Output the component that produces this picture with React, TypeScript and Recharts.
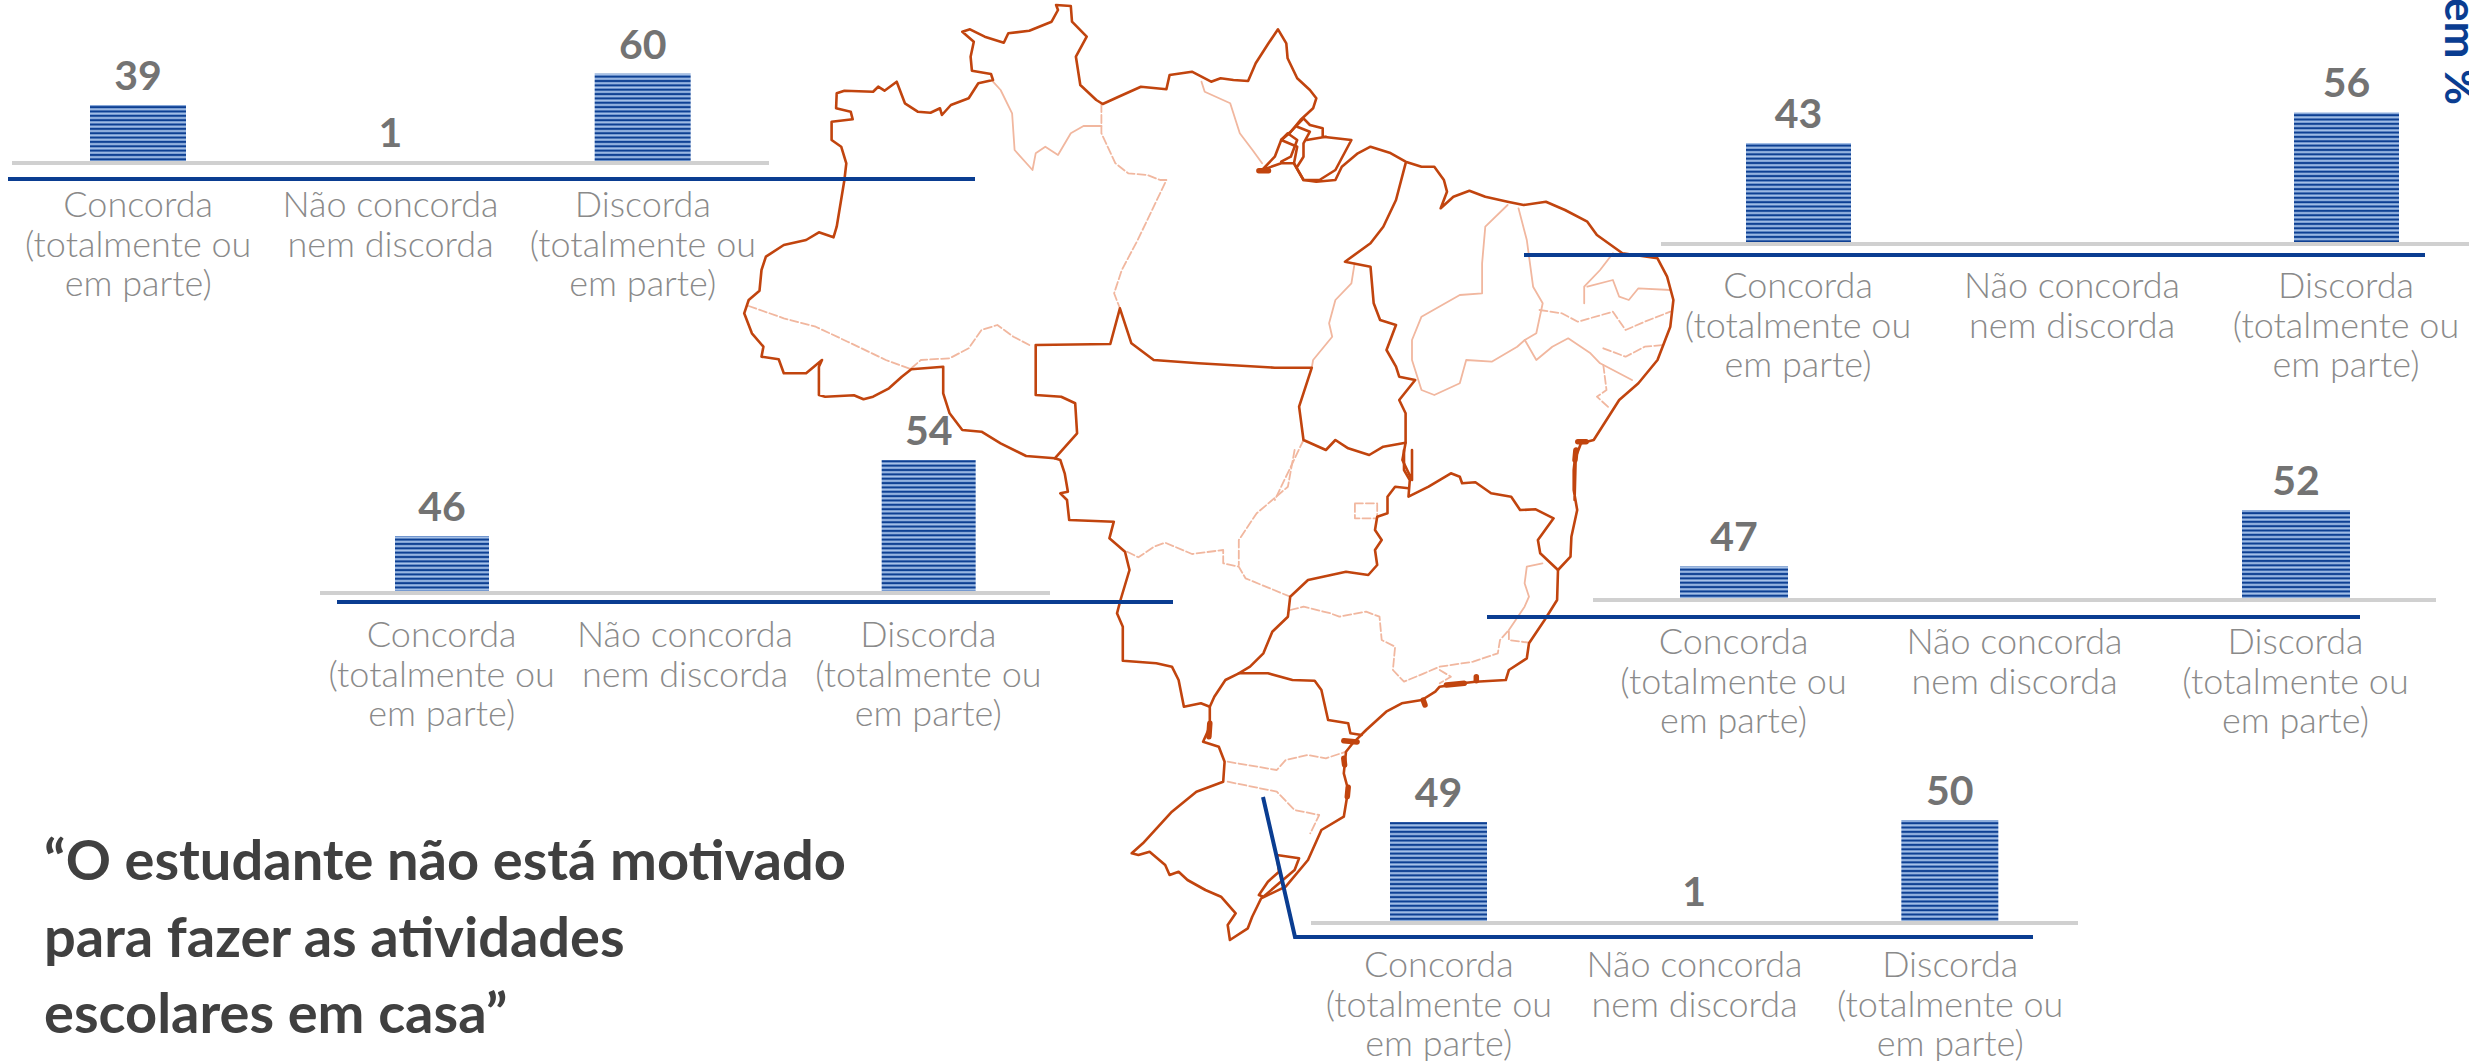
import React from 'react';
import { BarChart, Bar, XAxis, YAxis, LabelList } from 'recharts';

const WIDTH = 2469;
const HEIGHT = 1061;

const categories = ['Concorda', 'Não concorda', 'Discorda'];
const tickLines: Record<string, string[]> = {
  Concorda: ['Concorda', '(totalmente ou', 'em parte)'],
  'Não concorda': ['Não concorda', 'nem discorda'],
  Discorda: ['Discorda', '(totalmente ou', 'em parte)'],
};

const norteValues = [39, 1, 60];
const nordesteValues = [43, null, 56];
const centroOesteValues = [46, null, 54];
const sudesteValues = [47, null, 52];
const sulValues = [49, 1, 50];

const titleLines = ['“O estudante não está motivado', 'para fazer as atividades', 'escolares em casa”'];

const BLUE = '#0a3d91';
const GRAY_LINE = '#d0d0d0';
const MAP_DARK = '#c1440e';
const MAP_LIGHT = '#f1b79f';

// Map outline, traced by eye off two crops of the reference. It is backdrop, not data.
type Pt = number[];
const north = (pts: Pt[]) => pts.map(([x, y]) => `${(720 + x / 1.568).toFixed(1)},${(y / 3).toFixed(1)}`).join(' ');
const south = (pts: Pt[]) => pts.map(([x, y]) => `${(1000 + x / 2.24).toFixed(1)},${(450 + y / 3).toFixed(1)}`).join(' ');

const outline = [
  north([[350,1100],[300,1108],[285,1130],[265,1165],[240,1190],[225,1198],[210,1186],[165,1190],[155,1185],[155,1100],[160,1080],[135,1120],[100,1120],[92,1078],[65,1070],[68,1040],[50,1000],[38,940],[45,900],[62,872],[65,810],[72,770],[100,735],[135,720],[155,697],[178,712],[183,680],[195,540],[198,490],[190,440],[175,420],[175,365],[208,358],[205,335],[182,325],[183,280],[195,272],[240,275],[248,260],[258,272],[277,245],[290,310],[310,335],[330,338],[345,325],[348,345],[362,315],[390,295],[405,250],[428,240],[425,222],[395,212],[393,170],[398,125],[380,95],[392,88],[415,110],[445,128],[452,100],[485,92],[520,65],[530,30],[527,15],[550,18],[552,65],[575,110],[558,170],[565,255],[590,300],[600,312],[625,290],[660,260],[700,268],[705,225],[740,215],[770,245],[785,235],[805,240],[828,243],[840,190],[860,130],[875,88],[888,130],[890,175],[905,235],[925,270],[935,295],[930,325],[910,360],[895,395],[880,420],[870,470],[850,510],[880,490],[900,490],[915,540],[935,545],[965,540],[975,500],[1000,460],[1020,440],[1050,458],[1075,485],[1100,500],[1120,500],[1135,540],[1140,575],[1130,625],[1150,590],[1175,572],[1200,590],[1235,605],[1260,615],[1295,605],[1325,630],[1360,665],[1375,705],[1415,760],[1470,775],[1485,830],[1495,900],[1490,980],[1470,1080],[1440,1150],[1410,1200],[1370,1320],[1350,1330],[1340,1380],[1340,1500]]),
  south([[1290,0],[1285,60],[1285,120],[1293,180],[1280,260],[1278,320],[1250,360],[1248,450],[1220,510],[1185,580],[1180,625],[1140,660],[1133,690],[1065,695],[1035,700],[985,710],[975,725],[945,750],[900,760],[865,785],[820,840],[790,880],[775,905],[770,970],[780,1020],[770,1100],[720,1140],[690,1230],[640,1310],[585,1345],[565,1400],[555,1435],[515,1470],[510,1425],[528,1390],[495,1340],[460,1320],[420,1290],[400,1265],[380,1275],[370,1245],[335,1205],[310,1215],[295,1210],[320,1180],[385,1085],[440,1025],[500,995],[503,935],[490,890],[455,875],[470,830],[470,770],[450,760],[412,770],[400,690],[385,650],[350,640],[275,632],[275,530],[262,490],[270,450],[290,360],[280,305],[245,265],[255,215],[155,210],[150,150],[135,130],[152,125],[145,70],[135,30]]),
  north([[525,1375],[480,1368],[440,1330],[410,1295],[380,1290],[360,1240],[350,1180],[350,1100]]),
].join(' ');

const darkLines = [
  north([[525,1375],[560,1300],[557,1210],[535,1190],[495,1185],[495,1035],[612,1032],[627,925],[645,1030],[680,1080],[750,1090],[870,1103],[928,1103],[908,1220],[915,1320],[950,1350],[965,1320],[985,1345],[1018,1365],[1040,1340],[1075,1328]]),
  north([[1075,490],[1060,600],[1040,680],[1020,730],[980,785],[1020,800],[1025,910],[1035,960],[1060,975],[1045,1050],[1060,1100],[1065,1130],[1090,1140],[1065,1200],[1075,1240],[1075,1328],[1070,1380],[1085,1440],[1085,1350]]),
  north([[895,395],[915,355],[925,375],[945,385],[945,410],[990,420],[965,510],[940,540],[915,540],[900,490],[905,440],[880,420],[895,395]]),
  north([[880,420],[890,400],[905,420],[895,470],[880,485]]),
  north([[905,380],[925,395],[915,430],[915,470],[905,500]]),
  north([[920,420],[950,410]]),
  south([[905,0],[905,60],[918,90],[915,140],[960,110],[1010,70],[1030,80],[1035,100],[1065,97],[1100,130],[1145,140],[1165,180],[1200,178],[1240,205],[1205,270],[1210,310],[1250,360]]),
  south([[915,115],[885,110],[868,140],[868,190],[845,200],[840,240],[855,270],[840,300],[845,345],[825,375],[775,365],[690,390],[650,440],[645,500],[610,545],[590,610],[560,650],[535,670],[600,670],[655,690],[705,692],[720,720],[735,810],[780,820],[785,850],[810,855]]),
  south([[535,670],[505,690],[480,740],[470,770]]),
  south([[620,1215],[670,1225],[660,1260],[590,1340],[580,1335],[600,1295],[625,1265],[620,1215]]),
];

const blobLines = [
  north([[845,512],[860,512]]),
  north([[1345,1325],[1358,1325]]),
  south([[470,820],[468,860]]),
  south([[770,872],[800,876]]),
  south([[770,925],[772,945]]),
  south([[780,1012],[778,1040]]),
  south([[948,750],[952,765]]),
  south([[1000,705],[1040,700]]),
  south([[1067,680],[1067,692]]),
  south([[1290,0],[1288,30]]),
];

const paleLines = [
  north([[428,245],[440,270],[458,340],[462,450],[490,510],[495,460],[510,440],[530,465],[550,400],[570,378],[598,378]]),
  north([[755,245],[760,275],[800,310],[815,400],[835,450],[850,490]]),
  north([[1235,615],[1200,680],[1195,790],[1195,880],[1160,885],[1100,950],[1085,1020],[1085,1080],[1100,1170],[1120,1185],[1160,1150],[1170,1080],[1210,1085],[1250,1040],[1262,1020]]),
  north([[1252,625],[1265,720],[1275,860],[1290,910],[1280,1000],[1262,1020],[1280,1080],[1305,1040],[1330,1015],[1365,1060],[1380,1090],[1430,1140]]),
  north([[1400,760],[1380,810],[1355,860],[1355,910]]),
  north([[1360,860],[1400,840],[1410,890],[1425,900],[1440,865],[1490,870]]),
  north([[995,790],[990,850],[965,900],[955,970],[960,1010],[930,1080],[928,1103]]),
  south([[1215,340],[1180,350],[1175,400],[1185,440],[1175,470],[1140,540]]),
];

const dashedLines = [
  north([[598,312],[598,400],[620,490],[640,520],[670,525],[690,540],[700,540],[680,620],[655,720],[630,810],[618,880],[627,925]]),
  north([[45,918],[100,955],[150,980],[200,1025],[260,1080],[300,1108]]),
  north([[300,1105],[315,1080],[360,1075],[390,1045],[410,990],[435,975],[460,1010],[485,1035]]),
  north([[915,1320],[895,1400],[870,1500]]),
  north([[1285,930],[1320,940],[1345,965],[1400,935],[1420,990],[1450,965],[1490,935]]),
  north([[1385,1045],[1420,1070],[1450,1040],[1480,1035]]),
  north([[1385,1095],[1390,1170],[1375,1190],[1395,1225]]),
  south([[285,305],[310,322],[345,290],[370,278],[430,312],[500,300],[500,340],[535,350],[550,385],[650,440]]),
  south([[660,0],[645,110],[575,190],[535,270],[535,345]]),
  south([[795,160],[845,160],[845,205],[795,205],[795,160]]),
  south([[650,480],[680,470],[740,490],[760,500],[820,485],[850,500],[855,570],[885,590],[880,660],[905,695],[950,670],[985,650],[1060,635],[1115,610],[1120,570],[1140,540],[1140,570],[1185,578]]),
  south([[985,660],[1010,680],[985,700]]),
  south([[510,935],[620,960],[640,930],[690,915],[730,925],[775,905]]),
  south([[510,995],[620,1025],[660,1080],[715,1095],[695,1150]]),
];

function RegionTick({ x, y, payload }: any) {
  const lines = tickLines[payload.value] || [];
  return (
    <text x={x} y={y + 46} textAnchor="middle" fontFamily="Lato" fontWeight={300} fontSize={36} fill="#8a8a8a">
      {lines.map((line, i) => (
        <tspan key={line} x={x} dy={i === 0 ? 0 : 39.5}>{line}</tspan>
      ))}
    </text>
  );
}

function RegionChart({ id, values, left, right, base, plotHeight, domain, barSize }: {
  id: string; values: (number | null)[]; left: number; right: number; base: number;
  plotHeight: number; domain: number[]; barSize: number;
}) {
  const data = categories.map((name, i) => ({ name, value: values[i] }));
  const axisHeight = 150;
  return (
    <div style={{ position: 'absolute', left, top: base - plotHeight }}>
      <BarChart
        width={right - left}
        height={plotHeight + axisHeight}
        data={data}
        margin={{ top: 0, right: 0, bottom: 0, left: 0 }}
        barCategoryGap={0}
      >
        <defs>
          <pattern id={id} patternUnits="userSpaceOnUse" width={8} height={4.35}>
            <rect width={8} height={4.35} fill="#a9c3e8" />
            <rect y={0.4} width={8} height={0.5} fill="#4f7cc0" />
            <rect y={0.9} width={8} height={1.7} fill={BLUE} />
            <rect y={2.6} width={8} height={0.5} fill="#4f7cc0" />
          </pattern>
        </defs>
        <YAxis hide domain={domain} />
        <Bar dataKey="value" fill={`url(#${id})`} barSize={barSize} isAnimationActive={false}>
          <LabelList
            dataKey="value"
            position="top"
            offset={15}
            fontFamily="Lato"
            fontWeight={700}
            fontSize={41}
            fill="#737373"
          />
        </Bar>
        <XAxis
          dataKey="name"
          height={axisHeight}
          interval={0}
          axisLine={{ stroke: GRAY_LINE, strokeWidth: 4 }}
          tickLine={false}
          tick={<RegionTick />}
        />
      </BarChart>
    </div>
  );
}

export default function App() {
  return (
    <div style={{ position: 'absolute', left: 0, top: 0, width: WIDTH, height: HEIGHT, overflow: 'hidden', background: '#fff' }}>
      <svg width={WIDTH} height={HEIGHT} style={{ position: 'absolute', left: 0, top: 0 }}>
        <g fill="none" strokeLinejoin="round" strokeLinecap="round">
          {paleLines.map((p, i) => <polyline key={i} points={p} stroke={MAP_LIGHT} strokeWidth={1.8} />)}
          {dashedLines.map((p, i) => <polyline key={i} points={p} stroke={MAP_LIGHT} strokeWidth={1.8} strokeDasharray="8 3" />)}
          <polyline points={outline} stroke={MAP_DARK} strokeWidth={2.6} />
          {darkLines.map((p, i) => <polyline key={i} points={p} stroke={MAP_DARK} strokeWidth={2.6} />)}
          {blobLines.map((p, i) => <polyline key={i} points={p} stroke={MAP_DARK} strokeWidth={5.5} />)}
        </g>
      </svg>

      <RegionChart id="stripes-norte" values={norteValues} left={12} right={769} base={163} plotHeight={149} domain={[0, 100]} barSize={96} />
      <RegionChart id="stripes-nordeste" values={nordesteValues} left={1661} right={2483} base={244} plotHeight={235} domain={[0, 100]} barSize={105} />
      <RegionChart id="stripes-centro" values={centroOesteValues} left={320} right={1050} base={593} plotHeight={190} domain={[40, 60]} barSize={94} />
      <RegionChart id="stripes-sudeste" values={sudesteValues} left={1593} right={2436} base={600} plotHeight={180} domain={[44, 60]} barSize={108} />
      <RegionChart id="stripes-sul" values={sulValues} left={1311} right={2078} base={923} plotHeight={206} domain={[0, 100]} barSize={97} />

      <svg width={WIDTH} height={HEIGHT} style={{ position: 'absolute', left: 0, top: 0, pointerEvents: 'none' }}>
        <g stroke={BLUE} strokeWidth={4} fill="none">
          <line x1={8} y1={179} x2={975} y2={179} />
          <line x1={1524} y1={255} x2={2425} y2={255} />
          <line x1={337} y1={602} x2={1173} y2={602} />
          <line x1={1487} y1={617} x2={2360} y2={617} />
          <polyline points="1263,797 1295,937 2033,937" />
        </g>
        <text fontFamily="Lato" fontWeight={700} fontSize={56} fill="#404040">
          {titleLines.map((line, i) => (
            <tspan key={line} x={44} y={880 + i * 76.5}>{line}</tspan>
          ))}
        </text>
        <text transform="translate(2445,-2) rotate(90)" fontFamily="Lato" fontWeight={700} fontSize={44} fill={BLUE}>em %</text>
      </svg>
    </div>
  );
}
